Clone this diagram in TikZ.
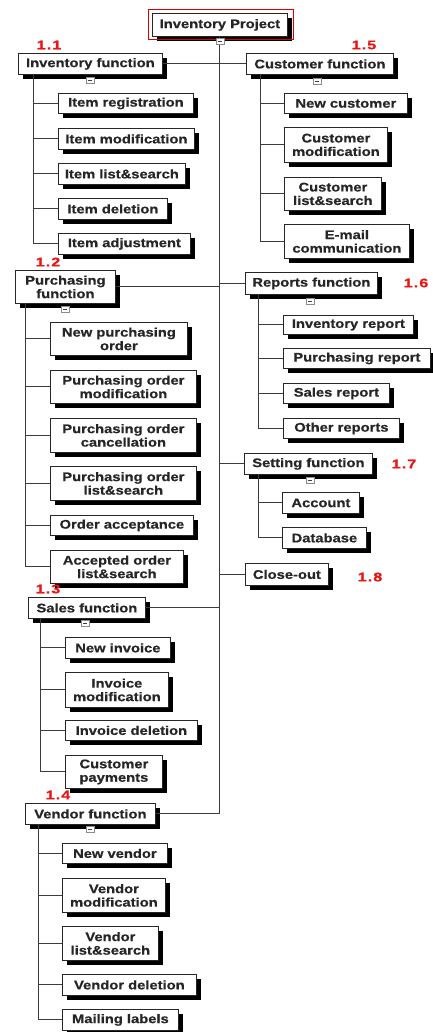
\documentclass[tikz,border=0pt]{standalone}
\usepackage{fontspec}
\newfontfamily\boxfont[FakeStretch=1.18,FakeBold=0.6]{Liberation Sans}
\newfontfamily\numfont[FakeStretch=1.3,LetterSpace=8,FakeBold=0.8]{Liberation Sans}
\usetikzlibrary{shadows}
\definecolor{redlab}{RGB}{232,22,22}
\definecolor{linegray}{RGB}{60,60,60}
\tikzset{
  box/.style={draw=black!85, line width=0.8pt, fill=white, inner sep=0pt, anchor=north west,
    align=center, text=black!85, font=\boxfont\bfseries\fontsize{12.5}{13.5}\selectfont,
    drop shadow={fill=black, opacity=1, shadow xshift=4.5pt, shadow yshift=-4.5pt}},
  conn/.style={draw=linegray, line width=0.9pt},
  marker/.style={draw=black!45, fill=white, line width=0.6pt, minimum width=8pt, minimum height=6pt, inner sep=0pt},
  num/.style={text=redlab, font=\numfont\bfseries\fontsize{12.5}{13}\selectfont, inner sep=0pt}
}
\newcommand\bx[6]{\node[box, minimum width={(#4-#2)*1pt}, minimum height={(#5-#3)*1pt}] (#1) at (#2,#3) {#6};}
\newcommand\mk[3]{\node[marker] (#1) at (#2,#3) {}; \draw[black!75, line width=0.7pt] ([xshift=-2.2pt]#1.center) -- ([xshift=2.2pt]#1.center);}
\begin{document}
\begin{tikzpicture}[x=1pt,y=-1pt]
\fill[white] (0,0) rectangle (433,1032);
\useasboundingbox (0,0) rectangle (433,1032);

% root
\bx{root}{152}{13}{287}{36}{Inventory Project}
\draw[red!85!black, line width=0.8pt] (148,9) rectangle (293,39);

% level 1
\bx{inv}{18}{53}{162}{74}{Inventory function}
\bx{cust}{246}{53}{393}{74}{Customer function}
\bx{pur}{15}{270}{115}{303}{Purchasing\\function}
\bx{rep}{245}{272}{377}{294}{Reports function}
\bx{set}{244}{453}{372}{474}{Setting function}
\bx{clo}{245}{563}{328}{585}{Close-out}
\bx{sal}{28}{597}{145}{618}{Sales function}
\bx{ven}{25}{803}{155}{824}{Vendor function}

% inventory children
\bx{i1}{58}{93}{193}{113}{Item registration}
\bx{i2}{58}{128}{194}{149}{Item modification}
\bx{i3}{58}{163}{185}{184}{Item list\&search}
\bx{i4}{58}{198}{167}{219}{Item deletion}
\bx{i5}{58}{233}{190}{254}{Item adjustment}

% purchasing children
\bx{p1}{50}{322}{187}{355}{New purchasing\\order}
\bx{p2}{50}{370}{196}{403}{Purchasing order\\modification}
\bx{p3}{50}{418}{196}{452}{Purchasing order\\cancellation}
\bx{p4}{50}{466}{196}{500}{Purchasing order\\list\&search}
\bx{p5}{50}{515}{193}{535}{Order acceptance}
\bx{p6}{50}{550}{183}{583}{Accepted order\\list\&search}

% sales children
\bx{s1}{65}{637}{170}{658}{New invoice}
\bx{s2}{65}{672}{168}{707}{Invoice\\modification}
\bx{s3}{65}{720}{197}{740}{Invoice deletion}
\bx{s4}{65}{755}{162}{788}{Customer\\payments}

% vendor children
\bx{v1}{62}{843}{167}{863}{New vendor}
\bx{v2}{62}{878}{165}{912}{Vendor\\modification}
\bx{v3}{62}{926}{158}{960}{Vendor\\list\&search}
\bx{v4}{62}{974}{196}{995}{Vendor deletion}
\bx{v5}{62}{1009}{178}{1030}{Mailing labels}

% customer children
\bx{c1}{284}{93}{407}{113}{New customer}
\bx{c2}{284}{127}{387}{162}{Customer\\modification}
\bx{c3}{284}{177}{381}{210}{Customer\\list\&search}
\bx{c4}{284}{224}{409}{258}{E-mail\\communication}

% reports children
\bx{r1}{283}{315}{413}{334}{Inventory report}
\bx{r2}{283}{348}{430}{368}{Purchasing report}
\bx{r3}{283}{383}{389}{403}{Sales report}
\bx{r4}{283}{418}{399}{438}{Other reports}

% setting children
\bx{t1}{282}{492}{359}{513}{Account}
\bx{t2}{282}{527}{366}{548}{Database}

% trunk and level-1 links
\draw[conn] (root.south) -- (root.south |- ven.east);
\draw[conn] (inv.east) -- (cust.west);
\foreach \n in {pur,sal,ven} \draw[conn] (\n.east) -- (\n.east -| root.south);
\foreach \n in {rep,set,clo} \draw[conn] (\n.west -| root.south) -- (\n.west);

% buses
\coordinate (invbus) at (33,74);
\draw[conn] (invbus) |- (i5.west);
\foreach \c in {i1,i2,i3,i4} \draw[conn] (invbus |- \c.west) -- (\c.west);
\coordinate (purbus) at (25,303);
\draw[conn] (purbus) |- (p6.west);
\foreach \c in {p1,p2,p3,p4,p5} \draw[conn] (purbus |- \c.west) -- (\c.west);
\coordinate (salbus) at (40,618);
\draw[conn] (salbus) |- (s4.west);
\foreach \c in {s1,s2,s3} \draw[conn] (salbus |- \c.west) -- (\c.west);
\coordinate (venbus) at (38,824);
\draw[conn] (venbus) |- (v5.west);
\foreach \c in {v1,v2,v3,v4} \draw[conn] (venbus |- \c.west) -- (\c.west);
\coordinate (custbus) at (260,74);
\draw[conn] (custbus) |- (c4.west);
\foreach \c in {c1,c2,c3} \draw[conn] (custbus |- \c.west) -- (\c.west);
\coordinate (repbus) at (258,294);
\draw[conn] (repbus) |- (r4.west);
\foreach \c in {r1,r2,r3} \draw[conn] (repbus |- \c.west) -- (\c.west);
\coordinate (setbus) at (258,474);
\draw[conn] (setbus) |- (t2.west);
\draw[conn] (setbus |- t1.west) -- (t1.west);

% collapse markers
\mk{mroot}{220}{41}
\mk{minv}{90}{80}
\mk{mcust}{317}{81}
\mk{mpur}{65}{309}
\mk{msal}{85}{623}
\mk{mven}{90}{829}
\mk{mrep}{310}{301}
\mk{mset}{310}{480}

% red numbers
\node[num] (n11) at (49,45) {1.1};
\node[num] (n15) at (364,45) {1.5};
\node[num] (n12) at (48,262) {1.2};
\node[num] (n13) at (48,589) {1.3};
\node[num] (n14) at (58,795) {1.4};
\node[num] (n16) at (416,283) {1.6};
\node[num] (n17) at (404,464) {1.7};
\node[num] (n18) at (370,577) {1.8};
\end{tikzpicture}
\end{document}
